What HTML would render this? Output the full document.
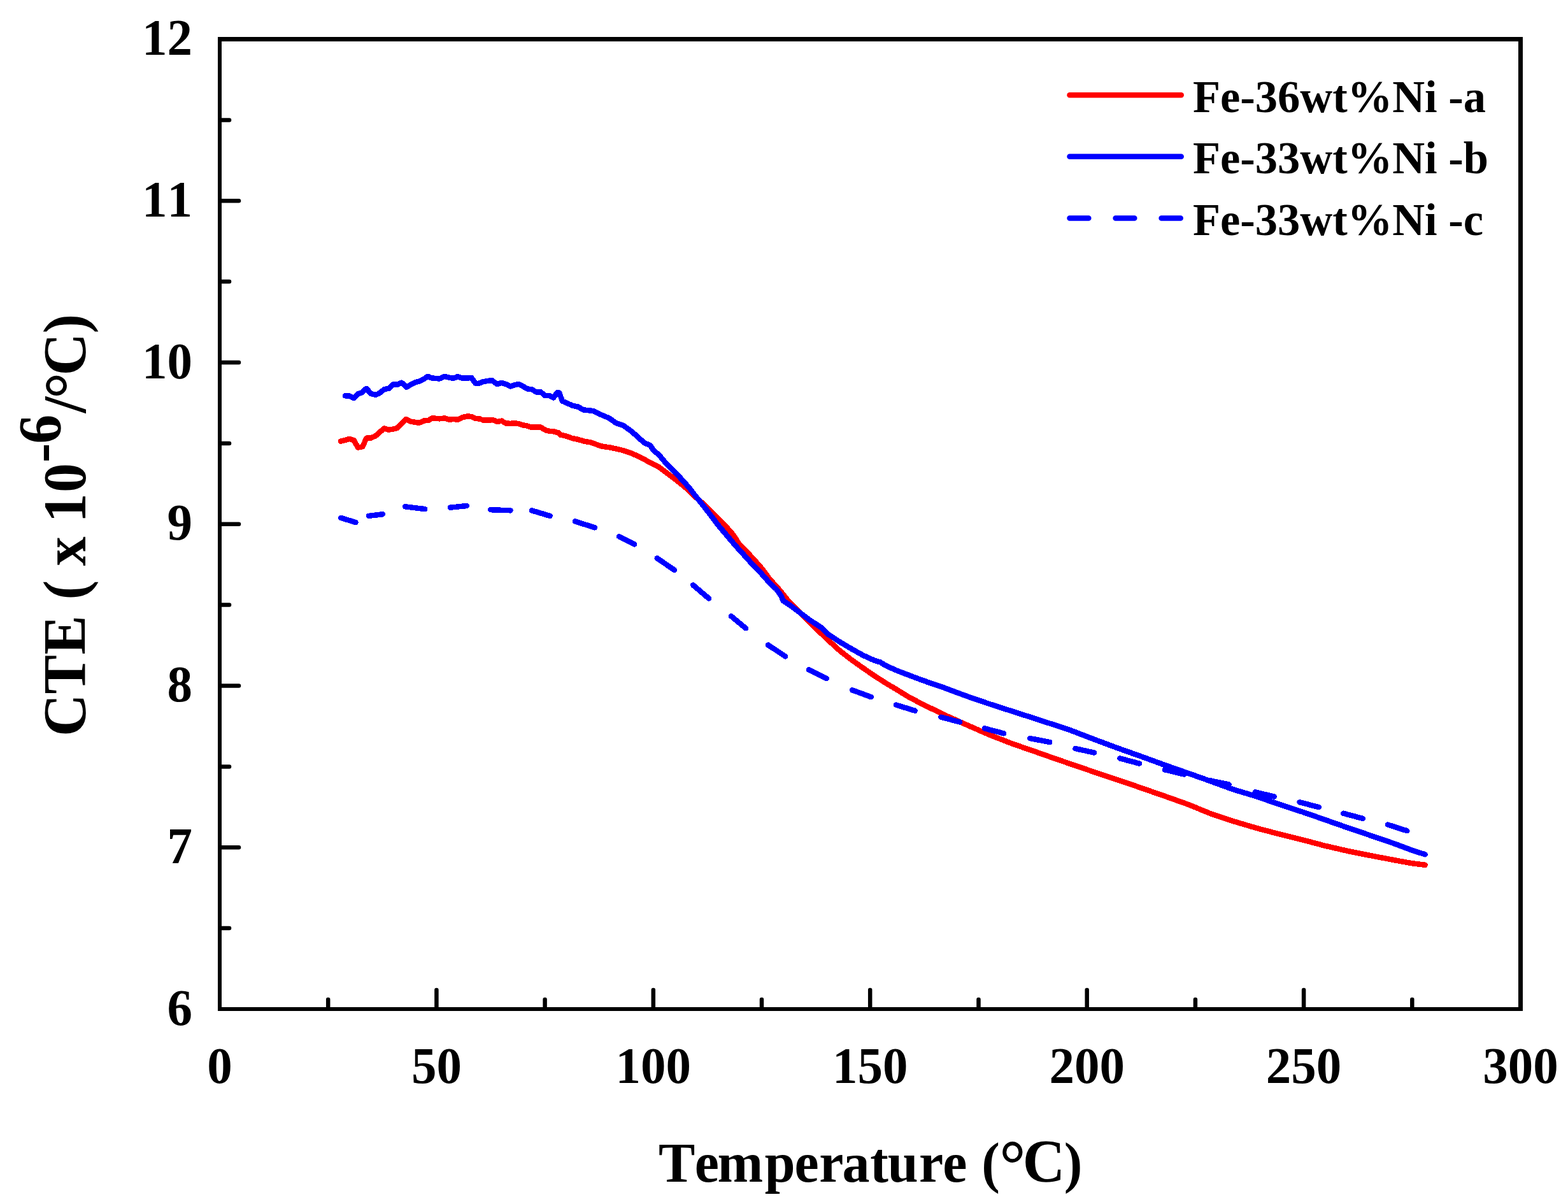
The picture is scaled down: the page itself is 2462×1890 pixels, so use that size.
<!DOCTYPE html>
<html lang="en"><head><meta charset="utf-8"><title>CTE vs Temperature</title>
<style>html,body{margin:0;padding:0;background:#fff}body{width:2462px;height:1890px;overflow:hidden}svg{display:block}text{font-kerning:none;font-family:"Liberation Serif","Times New Roman",serif;font-weight:bold;fill:#000}</style></head><body>
<svg width="2462" height="1890" viewBox="0 0 2462 1890">
<rect x="0" y="0" width="2462" height="1890" fill="#fff"/>
<g fill="none" shape-rendering="crispEdges" stroke-linecap="round" stroke-linejoin="round" stroke-width="8.5">
<path stroke="#f00" d="M535.1 692.6 L542.0 690.8 L549.3 688.9 L555.7 691.3 L562.1 702.6 L569.4 701.2 L575.3 687.6 L582.2 687.6 L589.5 684.4 L596.8 678.0 L603.2 672.5 L609.6 674.7 L616.9 673.8 L624.3 671.6 L630.7 665.2 L637.4 657.9 L644.4 661.5 L651.7 662.8 L658.1 663.9 L665.4 660.6 L672.7 659.7 L679.1 656.4 L690.0 657.3 L698.3 656.4 L705.6 658.8 L712.0 657.9 L718.7 658.8 L726.6 655.1 L733.9 653.3 L741.2 654.2 L746.7 656.9 L753.1 657.5 L759.5 659.7 L766.8 659.7 L774.1 659.1 L780.5 662.1 L787.8 660.6 L794.2 664.6 L801.5 664.8 L808.8 664.3 L814.3 665.2 L821.6 667.5 L828.0 668.5 L834.4 670.8 L841.7 670.3 L849.0 670.7 L856.3 675.2 L862.7 676.7 L870.0 677.4 L876.4 679.2 L880.0 682.7 L887.3 684.0 L898.3 688.0 L907.4 689.8 L916.5 692.5 L927.5 694.4 L944.0 700.4 L958.6 702.6 L975.0 706.2 L989.6 710.8 L1004.3 717.2 L1018.9 725.1 L1033.5 732.4 L1048.1 743.3 L1062.7 754.3 L1077.4 766.2 L1090.1 778.6 L1108.4 794.5 L1123.0 809.1 L1135.8 821.9 L1150.4 838.4 L1160.1 853.1 L1175.7 869.5 L1185.3 880.0 L1193.9 889.6 L1200.8 898.3 L1207.5 907.9 L1215.4 916.5 L1224.1 926.2 L1231.0 934.8 L1238.3 944.0 L1260.2 965.9 L1275.8 981.4 L1294.0 998.8 L1300.0 1004.5 L1318.3 1021.2 L1336.5 1035.4 L1354.8 1048.4 L1373.1 1061.0 L1391.4 1072.6 L1409.6 1083.5 L1427.9 1094.8 L1446.2 1104.2 L1480.0 1120.9 L1516.5 1137.3 L1553.1 1153.3 L1589.6 1167.5 L1626.2 1180.2 L1662.7 1193.0 L1720.0 1212.6 L1756.5 1224.7 L1793.1 1237.3 L1829.6 1250.0 L1866.2 1263.0 L1900.0 1276.9 L1936.5 1289.1 L1973.1 1300.0 L2009.6 1309.6 L2046.2 1318.6 L2080.0 1327.6 L2116.5 1336.0 L2153.1 1343.3 L2189.6 1350.2 L2217.0 1355.2 L2237.6 1357.8"/>
<path stroke="#00f" d="M542.0 621.3 L549.3 621.7 L555.7 625.0 L562.1 618.2 L567.6 616.7 L575.3 609.8 L582.2 617.7 L589.5 619.9 L595.0 617.7 L603.2 611.3 L611.5 609.4 L616.9 603.6 L624.3 603.6 L630.7 600.7 L638.0 607.6 L644.4 604.3 L651.7 600.3 L659.0 598.5 L665.4 595.2 L671.4 590.8 L678.2 593.4 L690.0 594.5 L698.3 590.8 L704.7 592.6 L712.0 593.9 L718.7 591.2 L724.8 593.4 L733.9 593.5 L740.3 593.0 L746.7 601.8 L752.2 601.8 L757.7 599.4 L765.0 598.1 L772.3 597.0 L780.5 603.0 L787.8 600.8 L794.2 603.0 L801.5 606.7 L808.8 604.0 L814.3 603.0 L821.6 606.7 L828.0 610.4 L835.3 611.3 L841.7 615.3 L849.0 615.3 L855.4 620.8 L862.7 621.3 L869.1 624.4 L874.6 616.4 L878.3 616.7 L882.8 629.5 L891.0 633.2 L898.3 636.4 L907.4 638.6 L916.5 643.4 L931.2 645.0 L944.0 651.1 L956.7 656.5 L967.7 664.4 L978.7 667.9 L989.6 675.7 L1000.6 684.9 L1011.6 695.3 L1020.7 698.9 L1026.2 706.8 L1035.3 714.7 L1044.3 725.6 L1057.0 738.5 L1069.2 751.2 L1082.3 765.8 L1089.9 775.9 L1098.8 786.9 L1108.4 799.1 L1117.6 811.0 L1126.7 823.2 L1139.5 838.4 L1154.1 855.7 L1168.7 871.8 L1186.0 891.0 L1187.0 891.4 L1196.9 901.9 L1201.6 906.9 L1207.9 914.7 L1218.9 924.8 L1226.2 934.8 L1229.8 943.0 L1240.8 950.4 L1255.4 961.3 L1270.0 972.3 L1281.0 979.6 L1290.1 985.6 L1300.0 995.4 L1318.3 1007.5 L1336.5 1018.2 L1354.8 1028.5 L1373.1 1036.9 L1382.2 1039.5 L1391.4 1045.2 L1409.6 1053.2 L1427.9 1060.2 L1446.2 1067.1 L1464.5 1073.5 L1480.0 1078.7 L1482.7 1079.7 L1516.5 1092.3 L1553.1 1104.9 L1589.6 1116.6 L1626.2 1128.4 L1662.7 1140.3 L1680.0 1146.0 L1720.0 1161.4 L1756.5 1174.9 L1793.1 1187.9 L1829.6 1201.2 L1866.2 1214.0 L1900.0 1226.0 L1936.5 1239.3 L1973.1 1250.3 L2009.6 1263.0 L2046.2 1274.9 L2080.0 1286.7 L2116.5 1299.5 L2153.1 1311.9 L2189.6 1324.4 L2217.0 1334.7 L2237.6 1341.3"/>
<path stroke="#00f" d="M535.1 812.8 L558.5 820.1 M578.9 809.9 L600.9 807.2 M636.1 795.3 L667.2 799.1 M706.9 796.7 L733.0 794.0 M770.1 800.2 L801.5 801.3 M834.9 801.3 L863.6 809.9 M902.8 818.3 L933.9 828.3 M971.9 842.0 L996.0 854.4 M1031.7 876.2 L1059.1 895.0 M1088.2 918.4 L1112.9 939.4 M1148.0 967.2 L1171.0 986.3 M1206.1 1012.5 L1233.1 1030.4 M1270.0 1051.2 L1297.8 1065.1 M1338.0 1083.2 L1367.8 1094.2 M1407.1 1106.6 L1436.7 1115.7 M1477.4 1125.7 L1507.0 1133.4 M1545.9 1143.4 L1576.0 1151.3 M1617.1 1159.0 L1648.2 1165.0 M1688.4 1175.1 L1718.0 1181.5 M1758.4 1190.4 L1788.9 1198.6 M1829.1 1208.3 L1859.2 1215.5 M1898.5 1225.0 L1929.5 1231.4 M1970.7 1243.3 L2000.8 1250.6 M2040.7 1259.2 L2070.8 1267.2 M2109.2 1276.7 L2140.0 1285.0 M2179.1 1294.6 L2209.3 1304.2"/>
</g>
<g fill="#000">
<rect x="342" y="58" width="6" height="1529"/>
<rect x="342" y="1581" width="2049" height="6"/>
<rect x="342" y="58" width="2049" height="7"/>
<rect x="2384" y="58" width="7" height="1529"/>
</g>
<g stroke="#000" stroke-width="6.5" stroke-linecap="round">
<line x1="346" y1="1457.1" x2="360.0" y2="1457.1"/>
<line x1="346" y1="1330.2" x2="375.0" y2="1330.2"/>
<line x1="346" y1="1203.4" x2="360.0" y2="1203.4"/>
<line x1="346" y1="1076.5" x2="375.0" y2="1076.5"/>
<line x1="346" y1="949.6" x2="360.0" y2="949.6"/>
<line x1="346" y1="822.8" x2="375.0" y2="822.8"/>
<line x1="346" y1="695.9" x2="360.0" y2="695.9"/>
<line x1="346" y1="569.0" x2="375.0" y2="569.0"/>
<line x1="346" y1="442.1" x2="360.0" y2="442.1"/>
<line x1="346" y1="315.2" x2="375.0" y2="315.2"/>
<line x1="346" y1="188.4" x2="360.0" y2="188.4"/>
<line x1="515.2" y1="1583" x2="515.2" y2="1569.0"/>
<line x1="685.4" y1="1583" x2="685.4" y2="1554.0"/>
<line x1="855.6" y1="1583" x2="855.6" y2="1569.0"/>
<line x1="1025.8" y1="1583" x2="1025.8" y2="1554.0"/>
<line x1="1196.0" y1="1583" x2="1196.0" y2="1569.0"/>
<line x1="1366.2" y1="1583" x2="1366.2" y2="1554.0"/>
<line x1="1536.5" y1="1583" x2="1536.5" y2="1569.0"/>
<line x1="1706.7" y1="1583" x2="1706.7" y2="1554.0"/>
<line x1="1876.9" y1="1583" x2="1876.9" y2="1569.0"/>
<line x1="2047.1" y1="1583" x2="2047.1" y2="1554.0"/>
<line x1="2217.3" y1="1583" x2="2217.3" y2="1569.0"/>
</g>
<text transform="translate(302.0 1608.5) scale(1 1.0250)" font-size="79" text-anchor="end">6</text>
<text transform="translate(302.0 1354.8) scale(1 1.0250)" font-size="79" text-anchor="end">7</text>
<text transform="translate(302.0 1101.0) scale(1 1.0250)" font-size="79" text-anchor="end">8</text>
<text transform="translate(302.0 847.2) scale(1 1.0250)" font-size="79" text-anchor="end">9</text>
<text transform="translate(302.0 593.5) scale(1 1.0250)" font-size="79" text-anchor="end">10</text>
<text transform="translate(302.0 339.8) scale(1 1.0250)" font-size="79" text-anchor="end">11</text>
<text transform="translate(302.0 86.0) scale(1 1.0250)" font-size="79" text-anchor="end">12</text>
<text transform="translate(345.0 1700.0) scale(1 1.0250)" font-size="79" text-anchor="middle">0</text>
<text transform="translate(685.4 1700.0) scale(1 1.0250)" font-size="79" text-anchor="middle">50</text>
<text transform="translate(1025.8 1700.0) scale(1 1.0250)" font-size="79" text-anchor="middle">100</text>
<text transform="translate(1366.2 1700.0) scale(1 1.0250)" font-size="79" text-anchor="middle">150</text>
<text transform="translate(1706.7 1700.0) scale(1 1.0250)" font-size="79" text-anchor="middle">200</text>
<text transform="translate(2047.1 1700.0) scale(1 1.0250)" font-size="79" text-anchor="middle">250</text>
<text transform="translate(2387.5 1700.0) scale(1 1.0250)" font-size="79" text-anchor="middle">300</text>
<text transform="translate(1035.0 1855.0) scale(1 1.0400)" font-size="86" x="-1.0 55.7 91.6 165.8 212.5 251.2 287.5 331.2 358.8 407.9 445.3 487.2 506.3 534.2 570.8 635.8">Temperature (<tspan font-size="103.2" dy="8.6">°</tspan><tspan font-size="92" dy="-8.6">C</tspan>)</text>
<text transform="translate(134.0 1158.0) rotate(-90) scale(1 1.0400)" font-size="92" x="2.0 68.4 130.6 189.2 216.4 242.8 269.7 311.8 337.4 384.9 431.7 461.3 509.7 532.0 568.4 634.5">CTE ( x 10<tspan dy="-37.5">-6</tspan><tspan dy="37.5">/</tspan><tspan font-size="103.04" dy="9.2">°</tspan><tspan dy="-9.2">C)</tspan></text>
<g fill="none" stroke-linecap="round" stroke-width="8.5">
<line x1="1679.5" y1="149.3" x2="1854.7" y2="149.3" stroke="#f00"/>
<line x1="1679.5" y1="245.7" x2="1854.7" y2="245.7" stroke="#00f"/>
<path stroke="#00f" d="M1679.5 342.4 H1709.3 M1751.6 342.4 H1781.3 M1823.6 342.4 H1853.7"/>
</g>
<text transform="translate(1873.0 175.9) scale(1 1.0300)" font-size="70.5" text-anchor="start">Fe-36wt%Ni -a</text>
<text transform="translate(1873.0 272.2) scale(1 1.0300)" font-size="70.5" text-anchor="start">Fe-33wt%Ni -b</text>
<text transform="translate(1873.0 368.6) scale(1 1.0300)" font-size="70.5" text-anchor="start">Fe-33wt%Ni -c</text>
</svg></body></html>
